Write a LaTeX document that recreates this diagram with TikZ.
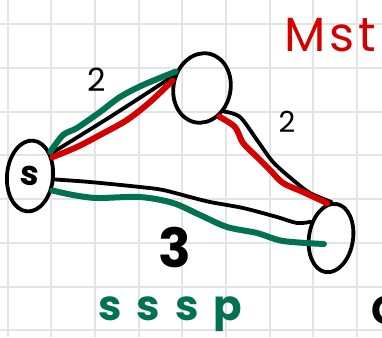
\documentclass[tikz,border=0pt]{standalone}
\usepackage{fontspec}
\setmainfont{Poppins}
\usetikzlibrary{shapes.geometric}
\definecolor{inkred}{RGB}{212,0,0}
\definecolor{inkgreen}{RGB}{0,114,82}
\definecolor{gridgray}{RGB}{228,228,228}
\begin{document}
\begin{tikzpicture}[x=1pt,y=-1pt,
  vert/.style={draw=black, ellipse, line width=3.8pt, inner sep=0pt},
  blackedge/.style={line width=3.8pt, black, line cap=round, line join=round},
  rededge/.style={line width=6pt, inkred, line cap=round, line join=round},
  greenedge/.style={line width=6pt, inkgreen, line cap=round, line join=round},
  lbl/.style={inner sep=0pt},
  gridline/.style={gridgray, line width=2pt}]
\useasboundingbox (0,0) rectangle (382,337);
\clip (0,0) rectangle (382,337);
\fill[white] (0,0) rectangle (382,337);
\foreach \gx in {7.5,51.2,94.9,138.6,182.3,226,269.7,313.4,357.1}
  \draw[gridline] (\gx,0) -- (\gx,337);
\foreach \gy in {24.3,68,111.7,155.4,199.1,242.8,286.5,330.2}
  \draw[gridline] (0,\gy) -- (382,\gy);

% vertices
\node[vert, minimum width=46pt, minimum height=71pt, rotate=-5,
      font=\bfseries\fontsize{34}{34}\selectfont] (s) at (30,176) {s};
\node[vert, minimum width=57pt, minimum height=70pt, rotate=-12] (a) at (202,88) {};
\node[vert, minimum width=44pt, minimum height=69pt, rotate=-9] (b) at (331,238) {};
\coordinate (gend) at (324,244);

% black edges
\draw[blackedge] plot[smooth] coordinates {(s.52) (110,117) (a.168)};
\draw[blackedge] plot[smooth] coordinates {(a.-35) (240,117) (257,140) (273,162) (293,180) (310,193) (b.98)};
\draw[blackedge] plot[smooth] coordinates {(s.-3) (90,182) (140,187) (163,190) (190,197) (210,202) (243,208) (277,217) (297,223) (b.150)};

% green (sssp)
\draw[greenedge] plot[smooth] coordinates {(s.55) (63,135) (77,128) (100,112) (120,97) (143,85) (a.160)};
\draw[greenedge] plot[smooth] coordinates {(s.-28) (73,195) (97,198) (140,197) (173,203) (200,215) (227,227) (257,233) (283,241) (gend)};

% red (mst)
\draw[rededge] plot[smooth] coordinates {(s.45) (77,147) (100,135) (127,120) (150,102) (a.178)};
\draw[rededge] plot[smooth] coordinates {(a.-47) (235,127) (243,143) (257,157) (270,170) (283,183) (303,192) (b.105)};

% labels
\node[lbl, font=\fontsize{32}{32}\selectfont] (w1) at (97,80) {2};
\node[lbl, font=\fontsize{29}{29}\selectfont] (w2) at (287,122) {2};
\node[lbl, font=\bfseries\fontsize{54}{54}\selectfont] (w3) at (175,247) {3};
\node[lbl, inkred, anchor=base west, font=\fontsize{48}{48}\selectfont\addfontfeature{LetterSpace=8}] (mst) at (284,52) {Mst};
\node[lbl, inkgreen, anchor=base west, font=\bfseries\fontsize{42}{42}\selectfont\addfontfeature{LetterSpace=36}] (sssp) at (98,320) {sssp};
\node[lbl, anchor=base west, font=\bfseries\fontsize{40}{40}\selectfont] (cut) at (371,324) {C};
\end{tikzpicture}
\end{document}
